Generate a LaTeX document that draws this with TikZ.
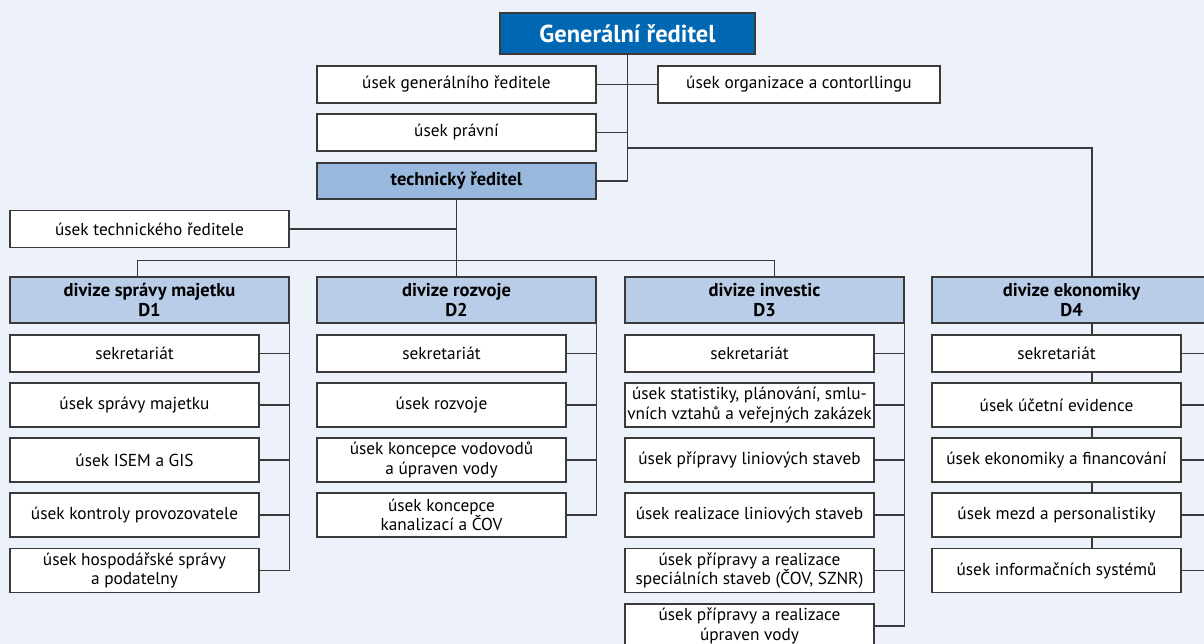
\documentclass[tikz,border=0pt]{standalone}
\usepackage{fontspec}
\setmainfont{PT Sans}
\usetikzlibrary{calc}
\definecolor{pagebg}{HTML}{EDF1F9}
\definecolor{gdblue}{HTML}{0067B2}
\definecolor{tdblue}{HTML}{99B8DE}
\definecolor{divblue}{HTML}{B9CDE8}
\definecolor{rule}{HTML}{3A3A3A}
\pgfdeclarelayer{bg}
\pgfdeclarelayer{wires}
\pgfsetlayers{bg,wires,main}
\tikzset{
  unit/.style={draw=rule, fill=white, line width=1.2pt, inner sep=0pt, align=center,
    font=\fontsize{17.3}{19.5}\selectfont},
  wide/.style={unit, minimum width=279pt, minimum height=37pt},
  sub/.style={unit, minimum width=249pt, minimum height=44pt},
  subone/.style={sub, minimum height=37pt},
  boldtext/.style={font=\bfseries\fontsize{18.5}{20}\selectfont},
  division/.style={unit, fill=divblue, minimum width=279pt, minimum height=46pt, boldtext},
  wire/.style={draw=rule, line width=1.2pt}
}
\begin{document}
\begin{tikzpicture}[x=1pt,y=-1pt]
\useasboundingbox (0,0) rectangle (1204,644);
\clip (0,0) rectangle (1204,644);
\begin{pgfonlayer}{bg}
  \fill[pagebg] (0,0) rectangle (1204,644);
\end{pgfonlayer}

% top management
\node[unit, fill=gdblue, text=white, minimum width=255pt, minimum height=41pt,
  font=\bfseries\fontsize{24.5}{27}\selectfont] (gen) at (627.5,33.5) {Generální ředitel};
\node[wide] (ugr) at (456.5,84.5) {úsek generálního ředitele};
\node[unit, minimum width=282pt, minimum height=37pt] (uoc) at (799,84.5) {úsek organizace a contorllingu};
\node[wide] (upr) at (456.5,132.5) {úsek právní};
\node[wide, fill=tdblue, minimum height=36pt, boldtext] (tech) at (456.5,181) {technický ředitel};
\node[wide] (utr) at (149.5,229) {úsek technického ředitele};

% divisions
\node[division] (d1) at (149.5,300) {divize správy majetku\\D1};
\node[division] (d2) at (456.5,300) {divize rozvoje\\D2};
\node[division] (d3) at (764.5,300) {divize investic\\D3};
\node[division] (d4) at (1071.5,300) {divize ekonomiky\\D4};

% D1 units
\node[subone] (a1) at (134.5,353.5) {sekretariát};
\node[sub] (a2) at (134.5,405) {úsek správy majetku};
\node[sub] (a3) at (134.5,460) {úsek ISEM a GIS};
\node[sub] (a4) at (134.5,515) {úsek kontroly provozovatele};
\node[sub] (a5) at (134.5,570.5) {úsek hospodářské správy\\a podatelny};

% D2 units
\node[subone] (b1) at (441.5,353.5) {sekretariát};
\node[sub] (b2) at (441.5,405) {úsek rozvoje};
\node[sub] (b3) at (441.5,460) {úsek koncepce vodovodů\\a úpraven vody};
\node[sub] (b4) at (441.5,515) {úsek koncepce\\kanalizací a ČOV};

% D3 units
\node[subone] (c1) at (749.5,353.5) {sekretariát};
\node[sub] (c2) at (749.5,405) {úsek statistiky, plánování, smlu-\\vních vztahů a veřejných zakázek};
\node[sub] (c3) at (749.5,460) {úsek přípravy liniových staveb};
\node[sub] (c4) at (749.5,515) {úsek realizace liniových staveb};
\node[sub] (c5) at (749.5,570.5) {úsek přípravy a realizace\\speciálních staveb (ČOV, SZNR)};
\node[sub] (c6) at (749.5,626) {úsek přípravy a realizace\\úpraven vody};

% D4 units
\node[subone] (e1) at (1056.5,353.5) {sekretariát};
\node[sub] (e2) at (1056.5,405) {úsek účetní evidence};
\node[sub] (e3) at (1056.5,460) {úsek ekonomiky a financování};
\node[sub] (e4) at (1056.5,515) {úsek mezd a personalistiky};
\node[sub] (e5) at (1056.5,570.5) {úsek informačních systémů};

\begin{pgfonlayer}{wires}
  % general director trunk
  \coordinate (j4) at (627,148);
  \coordinate (k4) at (1092,148);
  \draw[wire] (gen.south) -- (gen.south |- tech.east) -- (tech.east);
  \draw[wire] (ugr.east) -- (uoc.west);
  \draw[wire] (upr.east) -- (upr.east -| gen.south);
  \draw[wire] (j4) -- (k4) -- (k4 |- e5.north);
  % technical director branch
  \draw[wire] (tech.south) -- (d2.north);
  \draw[wire] (utr.east) -- (utr.east -| tech.south);
  \coordinate (h1) at ($(d1.north)+(-12,-16)$);
  \coordinate (h3) at ($(d3.north)+(10,-16)$);
  \draw[wire] (h1 |- d1.north) -- (h1) -- (h3) -- (h3 |- d3.north);
  % division columns
  \draw[wire] (d1.south east) |- (a5.east);
  \foreach \u in {a1,a2,a3,a4} \draw[wire] (\u.east) -- (\u.east -| d1.south east);
  \draw[wire] (d2.south east) |- (b4.east);
  \foreach \u in {b1,b2,b3} \draw[wire] (\u.east) -- (\u.east -| d2.south east);
  \draw[wire] (d3.south east) |- (c6.east);
  \foreach \u in {c1,c2,c3,c4,c5} \draw[wire] (\u.east) -- (\u.east -| d3.south east);
  \draw[wire] (d4.south east) |- (e5.east);
  \foreach \u in {e1,e2,e3,e4} \draw[wire] (\u.east) -- (\u.east -| d4.south east);
\end{pgfonlayer}
\end{tikzpicture}
\end{document}
